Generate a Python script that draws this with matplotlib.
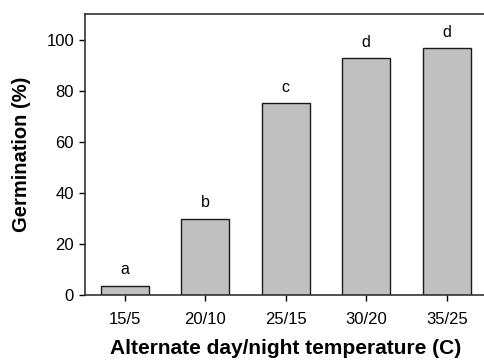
import matplotlib.pyplot as plt

temps = ['15/5', '20/10', '25/15', '30/20', '35/25']
germ = [3.8, 30, 75.2, 92.6, 96.6]
letters = ['a', 'b', 'c', 'd', 'd']

plt.rcParams['font.family'] = ['Liberation Sans', 'DejaVu Sans']

fig = plt.figure(figsize=(4.84, 3.62), dpi=100)
# right spine sits just past the image edge in the original
ax = fig.add_axes([84.5 / 484, 1 - 295.3 / 362, (487 - 84.5) / 484, (295.3 - 14) / 362])

x = range(len(temps))
ax.bar(x, germ, width=0.6, color='#c0c0c0', edgecolor='#1a1a1a', linewidth=1.0)
for i, (v, s) in enumerate(zip(germ, letters)):
    ax.text(i, v + 3.3, s, ha='center', va='bottom', fontsize=11.5)

ax.set_xlim(-0.5, 4.5)
ax.set_ylim(0, 110)
ax.set_xticks(list(x))
ax.set_xticklabels(temps)
ax.set_yticks([0, 20, 40, 60, 80, 100])
ax.tick_params(direction='out', length=4, labelsize=12, width=1)
ax.tick_params(axis='x', pad=8)
for sp in ax.spines.values():
    sp.set_linewidth(1.2)
    sp.set_color('#333333')

ax.set_xlabel('Alternate day/night temperature (C)', fontsize=15, fontweight='bold', labelpad=9)
ax.set_ylabel('Germination (%)', fontsize=14.5, fontweight='bold', labelpad=11)

fig.savefig('out.png', dpi=100)
